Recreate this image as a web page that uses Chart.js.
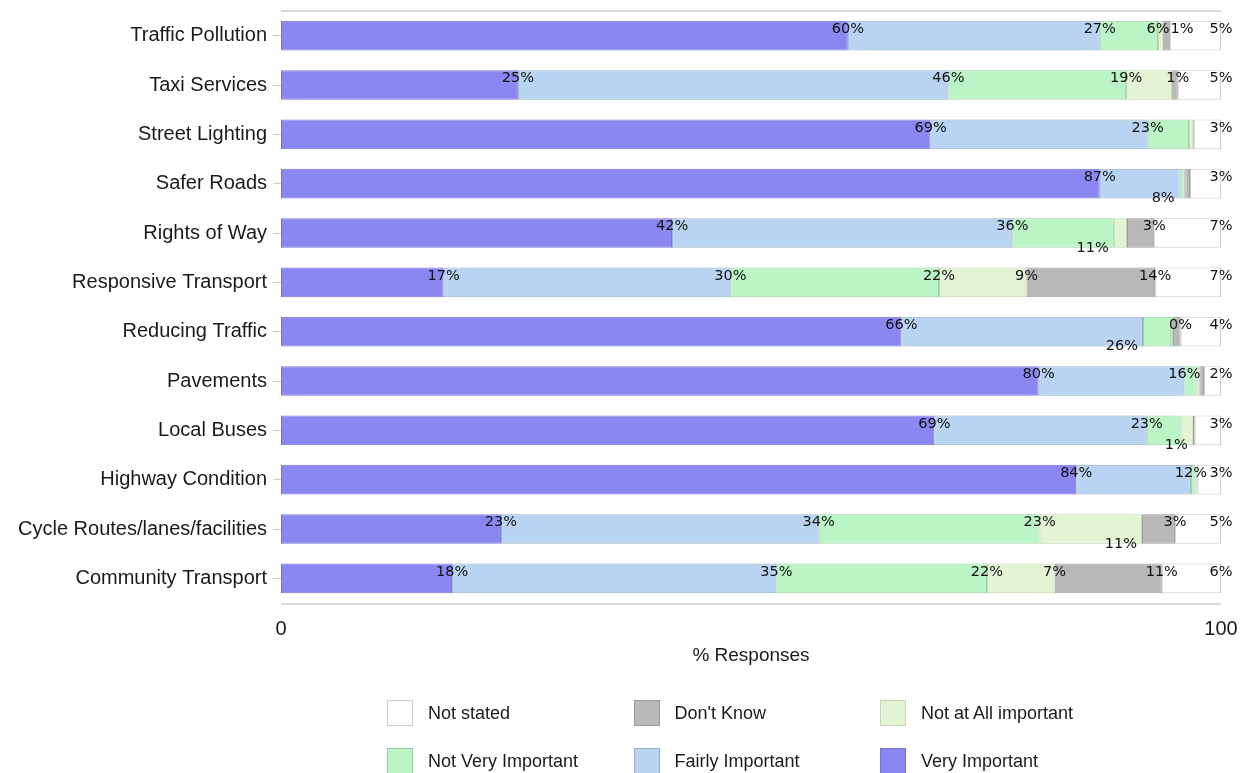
<!DOCTYPE html>
<html>
<head>
<meta charset="utf-8">
<script src="https://cdn.jsdelivr.net/npm/chart.js@4.4.0/dist/chart.umd.min.js"></script>
<style>
body { margin: 0; background: #fff; font-family: "Liberation Sans", Arial, sans-serif; }
#wrap { position: relative; width: 1246px; height: 773px; }
#legend { position: absolute; left: 0; top: 0; width: 1246px; height: 773px; pointer-events: none; }
.item { position: absolute; font-size: 18px; color: #1a1a1a; line-height: 26px; }
.box { position: absolute; left: 0; top: 0; width: 24px; height: 24px; border: 1px solid #999; }
.item span { position: absolute; left: 41px; top: 0; white-space: nowrap; }
</style>
</head>
<body>
<div id="wrap">
	<canvas id="chart" width="1246" height="680"></canvas>
	<div id="legend"></div>
</div>

<script>

// categories, top to bottom
var categories = ["Traffic Pollution", "Taxi Services", "Street Lighting", "Safer Roads", "Rights of Way",
	"Responsive Transport", "Reducing Traffic", "Pavements", "Local Buses", "Highway Condition",
	"Cycle Routes/lanes/facilities", "Community Transport"];

// % of responses, stacked left to right
var veryImportant   = [60.3, 25.2, 69.1, 87.1, 41.6, 17.3, 66.0, 80.6, 69.5, 84.6, 23.4, 18.2];
var fairlyImportant = [26.8, 45.8, 23.1, 8.5, 36.2, 30.5, 25.7, 15.5, 22.6, 12.2, 33.8, 34.5];
var notVery         = [6.2, 18.9, 4.4, 0.4, 10.8, 22.2, 3.0, 1.3, 3.7, 0.5, 23.5, 22.4];
var notAtAll        = [0.5, 4.9, 0.4, 0.2, 1.4, 9.3, 0.2, 0.3, 1.2, 0.1, 10.9, 7.2];
var dontKnow        = [0.8, 0.6, 0.1, 0.5, 2.9, 13.7, 0.8, 0.5, 0.2, 0.1, 3.5, 11.4];
var notStated       = [5.4, 4.6, 2.9, 3.3, 7.1, 7.0, 4.3, 1.8, 2.8, 2.5, 4.9, 6.3];

// the percentage labels shown on the chart (null = not shown)
var veryLabels      = [60, 25, 69, 87, 42, 17, 66, 80, 69, 84, 23, 18];
var fairlyLabels    = [27, 46, 23, 8, 36, 30, 26, 16, 23, 12, 34, 35];
var notVeryLabels   = [6, 19, null, null, 11, 22, null, null, null, null, 23, 22];
var notAtAllLabels  = [null, null, null, null, null, 9, null, null, 1, null, 11, 7];
var dontKnowLabels  = [1, 1, null, null, 3, 14, 0, null, null, null, 3, 11];
var notStatedLabels = [5, 5, 3, 3, 7, 7, 4, 2, 3, 3, 5, 6];

// labels that sit under the bar instead of on top
var labelsBelow = [["Safer Roads", "Fairly Important"], ["Rights of Way", "Not Very Important"],
	["Reducing Traffic", "Fairly Important"], ["Local Buses", "Not at All important"],
	["Cycle Routes/lanes/facilities", "Not at All important"]];

var xTicks = [0, 100];
var xTitle = "% Responses";

function series(label, data, labels, fill, border) {
	return {
		label: label, data: data, pctLabels: labels,
		backgroundColor: fill, borderColor: border, borderWidth: 1, borderSkipped: false,
		categoryPercentage: 0.6, barPercentage: 1
	};
}

var datasets = [
	series("Very Important", veryImportant, veryLabels, "#8b87f0", "#7773d4"),
	series("Fairly Important", fairlyImportant, fairlyLabels, "#b9d4f2", "#97adc8"),
	series("Not Very Important", notVery, notVeryLabels, "#bbf4c5", "#98cfa2"),
	series("Not at All important", notAtAll, notAtAllLabels, "#e2f4d4", "#c2d6b4"),
	series("Don't Know", dontKnow, dontKnowLabels, "#b8b8b8", "#9a9a9a"),
	series("Not stated", notStated, notStatedLabels, "#ffffff", "#cccccc")
];

function isBelow(cat, name) {
	for (var i = 0; i < labelsBelow.length; i++) {
		if (labelsBelow[i][0] == cat && labelsBelow[i][1] == name) return true;
	}
	return false;
}

var pctLabels = {
	id: "pctLabels",
	afterDatasetsDraw: function(chart) {
		var ctx = chart.ctx;
		ctx.save();
		ctx.font = '14.5px "DejaVu Sans"';
		ctx.fillStyle = "#111";
		ctx.textAlign = "left";
		ctx.textBaseline = "alphabetic";
		for (var i = 0; i < categories.length; i++) {
			var prevRight = -Infinity;
			for (var d = 0; d < chart.data.datasets.length; d++) {
				var ds = chart.data.datasets[d];
				var v = ds.pctLabels[i];
				if (v == null) continue;
				var bar = chart.getDatasetMeta(d).data[i];
				var txt = v + "%";
				var w = ctx.measureText(txt).width;
				var top = bar.y - bar.height / 2;
				var bottom = bar.y + bar.height / 2;
				if (isBelow(categories[i], ds.label)) {
					ctx.fillText(txt, bar.x - 5 - w, bottom + 4);
					continue;
				}
				var left = bar.x - w / 2;
				if (left < prevRight + 1) left = prevRight + 1;
				ctx.fillText(txt, left, top + 12);
				prevRight = left + w;
			}
		}
		ctx.restore();
	}
};

// light frame lines above and below the bars
var frameLines = {
	id: "frameLines",
	beforeDatasetsDraw: function(chart) {
		var a = chart.chartArea, ctx = chart.ctx;
		ctx.save();
		ctx.strokeStyle = "#d9d9d9";
		ctx.lineWidth = 2;
		ctx.beginPath();
		ctx.moveTo(a.left, a.top);
		ctx.lineTo(a.right, a.top);
		ctx.moveTo(a.left, a.bottom + 1);
		ctx.lineTo(a.right, a.bottom + 1);
		ctx.stroke();
		ctx.restore();
	}
};

var ctx = document.getElementById("chart").getContext("2d");
var myChart = new Chart(ctx, {
	type: "bar",
	data: { labels: categories, datasets: datasets },
	options: {
		indexAxis: "y",
		responsive: false,
		animation: false,
		layout: { padding: { top: 11, right: 25, left: 0, bottom: 0 } },
		plugins: { legend: { display: false }, tooltip: { enabled: false } },
		scales: {
			x: {
				stacked: true, min: 0, max: 100,
				grid: { display: false, drawTicks: false },
				border: { display: false },
				ticks: { padding: 14, color: "#1a1a1a", font: { family: "Liberation Sans", size: 20 } },
				afterBuildTicks: function(s) { s.ticks = xTicks.map(function(v) { return { value: v }; }); },
				afterFit: function(s) { s.height = 77; s.paddingLeft = 0; s.paddingRight = 0; },
				title: { display: true, text: xTitle, color: "#1a1a1a", font: { family: "Liberation Sans", size: 19 }, padding: { top: 4, bottom: 13 } }
			},
			y: {
				stacked: true,
				grid: { drawOnChartArea: false, offset: false, tickLength: 8, color: "#cccccc" },
				border: { display: false },
				ticks: { padding: 6, color: "#1a1a1a", font: { family: "Liberation Sans", size: 20 } },
				afterFit: function(s) { s.width = 281; s.paddingTop = 0; s.paddingBottom = 0; }
			}
		}
	},
	plugins: [frameLines, pctLabels]
});

// legend: 3 columns, reverse of stack order
var legend = document.getElementById("legend");
var legendOrder = datasets.slice().reverse();
for (var i = 0; i < legendOrder.length; i++) {
	var ds = legendOrder[i];
	var col = i % 3, row = Math.floor(i / 3);
	var html = '<div class="item" style="left:' + (387 + col * 246.5) + 'px;top:' + (700 + row * 48) + 'px">';
	html += '<div class="box" style="background:' + ds.backgroundColor + ';border-color:' + ds.borderColor + '"></div>';
	html += '<span>' + ds.label + '</span></div>';
	legend.insertAdjacentHTML("beforeend", html);
}
</script>
</body>
</html>
